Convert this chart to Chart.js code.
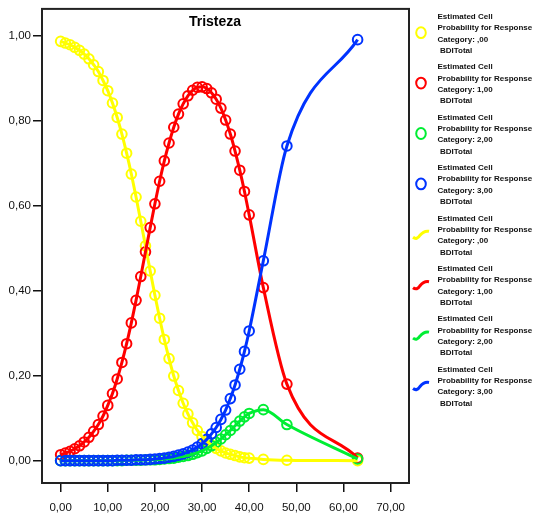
<!DOCTYPE html>
<html>
<head>
<meta charset="utf-8">
<script src="https://cdn.jsdelivr.net/npm/chart.js@4/dist/chart.umd.min.js"></script>
<style>
html, body { margin: 0; padding: 0; background: #fff; }
</style>
</head>
<body>
<canvas id="chart" width="535" height="519"></canvas>
<script>
// BDITotal scores (x) and estimated probability of each response category
var bdiTotal = [0,1,2,3,4,5,6,7,8,9,10,11,12,13,14,15,16,17,18,19,20,
  21,22,23,24,25,26,27,28,29,30,31,32,33,34,35,36,37,38,39,40,43,48,63];
var probCat0 = [0.986,0.982,0.978,0.972,0.965,0.956,0.945,0.931,0.915,0.894,0.870,
  0.841,0.807,0.768,0.723,0.674,0.620,0.563,0.505,0.446,0.389,0.335,0.285,0.240,
  0.199,0.165,0.135,0.110,0.089,0.071,0.057,0.046,0.037,0.029,0.023,0.018,0.015,
  0.012,0.009,0.007,0.006,0.003,0.001,0.000];
var probCat1 = [0.014,0.018,0.022,0.028,0.035,0.044,0.055,0.069,0.085,0.105,0.130,
  0.158,0.192,0.231,0.275,0.324,0.377,0.433,0.491,0.548,0.604,0.657,0.705,0.747,
  0.784,0.815,0.839,0.858,0.871,0.878,0.879,0.875,0.865,0.850,0.829,0.801,0.768,
  0.728,0.683,0.633,0.578,0.407,0.180,0.006];
var probCat2 = [0.000,0.000,0.000,0.000,0.000,0.000,0.000,0.000,0.000,0.000,0.000,
  0.000,0.000,0.000,0.001,0.001,0.001,0.001,0.002,0.002,0.002,0.003,0.004,0.005,
  0.006,0.008,0.010,0.012,0.015,0.019,0.023,0.029,0.035,0.043,0.051,0.061,0.071,
  0.082,0.093,0.103,0.111,0.120,0.085,0.004];
var probCat3 = [0.000,0.000,0.000,0.000,0.000,0.000,0.000,0.000,0.000,0.000,0.000,
  0.000,0.001,0.001,0.001,0.001,0.002,0.002,0.002,0.003,0.004,0.005,0.006,0.008,
  0.010,0.013,0.016,0.020,0.025,0.032,0.040,0.050,0.063,0.078,0.097,0.119,0.146,
  0.178,0.215,0.257,0.305,0.470,0.740,0.990];

var categories = [',00', '1,00', '2,00', '3,00'];
var catColors = ['#ffff00', '#ff0000', '#00ee33', '#0033ff'];
var xTicks = [0, 10, 20, 30, 40, 50, 60, 70];
var yTicks = [0, 0.2, 0.4, 0.6, 0.8, 1.0];
var chartTitle = 'Tristeza';

var allProbs = [probCat0, probCat1, probCat2, probCat3];

function toPoints(arr) {
  return bdiTotal.map(function(x, i) { return {x: x, y: arr[i]}; });
}
function commaFmt(v) {
  return Number(v).toFixed(2).replace('.', ',');
}

var datasets = [];
// observed points (circles)
allProbs.forEach(function(p, i) {
  datasets.push({
    kind: 'marker',
    cat: categories[i],
    data: toPoints(p),
    showLine: false,
    pointStyle: 'circle',
    pointRadius: 4.8,
    pointBorderWidth: 2,
    pointBackgroundColor: 'rgba(0,0,0,0)',
    pointBorderColor: catColors[i],
    borderColor: catColors[i],
    order: 8 - i
  });
});
// fitted lines
allProbs.forEach(function(p, i) {
  datasets.push({
    kind: 'line',
    cat: categories[i],
    data: toPoints(p),
    showLine: true,
    pointRadius: 0,
    borderWidth: 3,
    borderColor: catColors[i],
    backgroundColor: catColors[i],
    cubicInterpolationMode: 'monotone',
    fill: false,
    order: 4 - i
  });
});

var framePlugin = {
  id: 'frame',
  afterDatasetsDraw: function(chart) {
    var a = chart.chartArea, ctx = chart.ctx;
    ctx.save();
    ctx.strokeStyle = '#222';
    ctx.lineWidth = 2;
    ctx.strokeRect(a.left, a.top, a.right - a.left, a.bottom - a.top);
    ctx.fillStyle = '#000';
    ctx.font = 'bold 14px "Liberation Sans", Arial, sans-serif';
    ctx.textAlign = 'center';
    ctx.textBaseline = 'middle';
    ctx.fillText(chartTitle, 215, 22);
    ctx.restore();
  }
};

var legendPlugin = {
  id: 'sideLegend',
  afterDraw: function(chart) {
    var ctx = chart.ctx;
    ctx.save();
    chart.data.datasets.forEach(function(ds, i) {
      var cy = 32.7 + i * 50.4;
      var cx = 421;
      ctx.strokeStyle = ds.borderColor;
      if (ds.kind === 'marker') {
        ctx.lineWidth = 2;
        ctx.beginPath();
        ctx.ellipse(cx, cy, 4.8, 5.4, 0, 0, Math.PI * 2);
        ctx.stroke();
      } else {
        ctx.lineWidth = 3;
        ctx.beginPath();
        ctx.moveTo(cx - 8, cy + 3);
        ctx.quadraticCurveTo(cx - 4, cy + 6, cx - 1, cy + 1);
        ctx.quadraticCurveTo(cx + 3, cy - 4, cx + 8, cy - 3);
        ctx.stroke();
      }
      ctx.fillStyle = '#111';
      ctx.font = 'bold 8px "Liberation Sans", Arial, sans-serif';
      ctx.textAlign = 'left';
      ctx.textBaseline = 'middle';
      ctx.fillText('Estimated Cell', 437.5, cy - 16);
      ctx.fillText('Probability for Response', 437.5, cy - 4.7);
      ctx.fillText('Category: ' + ds.cat, 437.5, cy + 6.6);
      ctx.fillText('BDITotal', 440, cy + 18);
    });
    ctx.restore();
  }
};

var ctx = document.getElementById('chart');
var chart = new Chart(ctx, {
  type: 'scatter',
  data: { datasets: datasets },
  plugins: [framePlugin, legendPlugin],
  options: {
    responsive: false,
    animation: false,
    layout: { padding: { top: 5, right: 126, left: 0, bottom: 0 } },
    plugins: {
      legend: { display: false },
      tooltip: { enabled: false },
      title: { display: false }
    },
    scales: {
      x: {
        type: 'linear',
        min: -3.95,
        max: 73.9,
        afterBuildTicks: function(scale) {
          scale.ticks = xTicks.map(function(v) { return {value: v}; });
        },
        afterFit: function(scale) { scale.height = 36; },
        border: { display: false },
        grid: { drawOnChartArea: false, drawTicks: true, tickLength: 9, color: '#111', lineWidth: 1.5 },
        ticks: {
          padding: 9,
          color: '#111',
          font: { family: '"Liberation Sans", Arial, sans-serif', size: 11.5 },
          maxRotation: 0,
          callback: function(v) { return commaFmt(v); }
        }
      },
      y: {
        min: -0.0525,
        max: 1.0623,
        afterBuildTicks: function(scale) {
          scale.ticks = yTicks.map(function(v) { return {value: v}; });
        },
        afterFit: function(scale) { scale.width = 42; },
        border: { display: false },
        grid: { drawOnChartArea: false, drawTicks: true, tickLength: 9, color: '#111', lineWidth: 1.5 },
        ticks: {
          padding: 2,
          color: '#111',
          font: { family: '"Liberation Sans", Arial, sans-serif', size: 11.5 },
          callback: function(v) { return commaFmt(v); }
        }
      }
    }
  }
});
</script>
</body>
</html>
